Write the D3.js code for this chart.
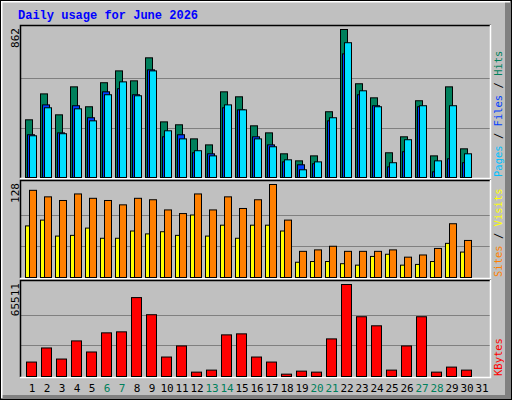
<!DOCTYPE html>
<html><head><meta charset="utf-8">
<script src="https://cdn.jsdelivr.net/npm/d3@7"></script>
<style>body{margin:0;background:#fff}</style>
</head><body>
<svg id="c" width="512" height="400"></svg>
<script>
var days = d3.range(1, 32);
var weekend = [6, 7, 13, 14, 20, 21, 27, 28];
var hits = [336,487,365,528,412,552,621,563,697,324,307,225,190,499,470,301,260,138,97,126,383,862,546,464,144,237,447,126,528,167,0];
var files = [249,423,260,418,348,499,517,482,627,237,249,144,138,406,394,237,190,91,74,80,330,720,482,418,62,150,412,33,109,86,0];
var pages = [243,406,255,400,330,482,557,476,621,272,225,156,126,423,394,225,179,103,45,91,348,785,505,412,86,220,418,97,418,138,0];
var visits = [120,111,106,115,109,106,100,109,107,93,88,115,93,111,95,107,128,79,36,38,43,36,36,36,38,28,31,40,74,51,0];
var sites = [71,79,57,58,68,54,54,64,60,63,58,86,57,72,54,72,72,64,21,22,22,19,17,29,32,17,18,22,47,35,0];
var kbytes = [10281,20323,12433,25345,17454,31083,31800,56188,43994,13868,21758,3108,4543,29648,30365,13868,10281,1674,3826,3108,26779,65511,42560,36104,4543,21758,42560,3108,6695,4543,0];

var svg = d3.select("#c");
var mono = "'DejaVu Sans Mono', monospace";

// outer frame with bevel
svg.append("rect").attr("x", 0).attr("y", 0).attr("width", 512).attr("height", 400).attr("fill", "#c0c0c0");
svg.append("rect").attr("x", 505).attr("y", 0).attr("width", 7).attr("height", 400).attr("fill", "#808080");
svg.append("rect").attr("x", 0).attr("y", 395).attr("width", 512).attr("height", 5).attr("fill", "#808080");
svg.append("path").attr("d", "M1.5 398V1.5H510").attr("stroke", "#fff").attr("stroke-width", 2).attr("fill", "none");
svg.append("rect").attr("x", 0.5).attr("y", 0.5).attr("width", 511).attr("height", 399).attr("fill", "none").attr("stroke", "#000");

svg.append("text").attr("x", 18).attr("y", 19).attr("fill", "#0000ff")
    .attr("font-family", "'Liberation Mono', monospace").attr("font-weight", "bold").attr("font-size", 12)
    .text("Daily usage for June 2026");

var x = d3.scaleLinear().domain([1, 31]).range([25, 475]);

function panel(top, bottom, max, maxLabel, series, labels) {
    var y = d3.scaleLinear().domain([0, max]).range([bottom, top + 4]);
    var g = svg.append("g");
    g.append("rect").attr("x", 20).attr("y", top).attr("width", 470).attr("height", bottom - top).attr("fill", "#c0c0c0");
    [1, 2].forEach(function (k) {
        var yy = Math.round(bottom - (bottom - top - 4) * k / 3) + 0.5;
        g.append("line").attr("x1", 21).attr("x2", 490).attr("y1", yy).attr("y2", yy).attr("stroke", "#808080");
    });
    g.append("path").attr("d", "M20.5 " + (bottom + 1) + "V" + (top + 0.5) + "H491").attr("stroke", "#000").attr("fill", "none").attr("stroke-width", 1.5);
    g.append("path").attr("d", "M20 " + (bottom + 1.5) + "H490.5V" + top).attr("stroke", "#fff").attr("fill", "none").attr("stroke-width", 1.5);
    series.forEach(function (s) {
        g.selectAll(null).data(days.filter(function (d) { return s.values[d - 1] > 0; })).enter().append("rect")
            .attr("x", function (d) { return x(d) + s.dx + 0.5; })
            .attr("y", function (d) { return y(s.values[d - 1]) + 0.5; })
            .attr("width", s.w)
            .attr("height", function (d) { return bottom - y(s.values[d - 1]); })
            .attr("fill", s.color).attr("stroke", "#000").attr("stroke-width", 1);
    });
    g.append("text").attr("transform", "translate(19," + (top + 3) + ") rotate(-90)")
        .attr("text-anchor", "end").attr("font-family", mono).attr("font-size", 11).attr("fill", "#000").text(maxLabel);
    var t = g.append("text").attr("transform", "translate(502," + (bottom) + ") rotate(-90)")
        .attr("font-family", mono).attr("font-size", 10.5);
    labels.forEach(function (l, i) {
        if (i > 0) t.append("tspan").attr("fill", "#000").text(" / ");
        t.append("tspan").attr("fill", l[1]).text(l[0]);
    });
}

panel(25, 177, 862, "862", [
    { values: hits, dx: 0, w: 7, color: "#00805c" },
    { values: files, dx: 2, w: 7, color: "#0040ff" },
    { values: pages, dx: 4, w: 7, color: "#00e0ff" }
], [["Pages", "#00c0ff"], ["Files", "#0040ff"], ["Hits", "#00805c"]]);

panel(180, 277, 128, "128", [
    { values: sites, dx: 0, w: 4, color: "#ffff00" },
    { values: visits, dx: 4, w: 7, color: "#ff8000" }
], [["Sites", "#ff8000"], ["Visits", "#ffff00"]]);

panel(280, 376, 65511, "65511", [
    { values: kbytes, dx: 1, w: 10, color: "#ff0000" }
], [["KBytes", "#ff0000"]]);

svg.append("g").selectAll("text").data(days).enter().append("text")
    .attr("x", function (d) { return x(d) + 7; }).attr("y", 392)
    .attr("text-anchor", "middle").attr("font-family", mono).attr("font-size", 11)
    .attr("fill", function (d) { return weekend.indexOf(d) >= 0 ? "#00805c" : "#000"; })
    .text(function (d) { return d; });
</script>
</body></html>
